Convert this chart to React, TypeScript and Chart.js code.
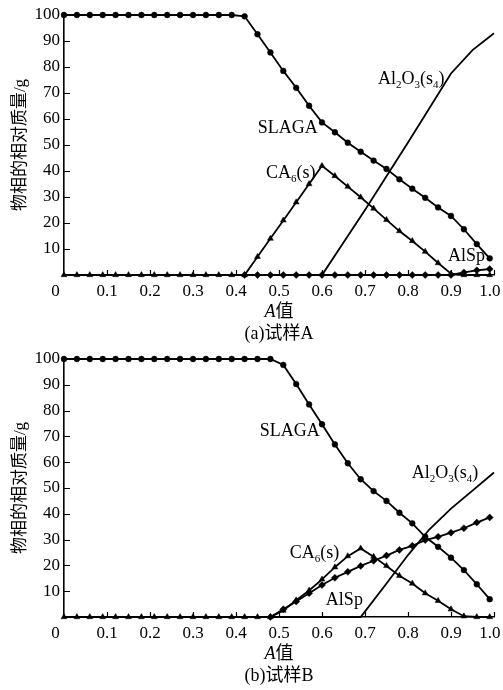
import React, { useEffect, useRef } from 'react';
import { Chart, registerables } from 'chart.js';
Chart.register(...registerables);

// ---- Data ----
const X_VALUES = [0, 0.03, 0.06, 0.09, 0.12, 0.15, 0.18, 0.21, 0.24, 0.27, 0.3, 0.33, 0.36, 0.39, 0.42, 0.45, 0.48, 0.51, 0.54, 0.57, 0.6, 0.63, 0.66, 0.69, 0.72, 0.75, 0.78, 0.81, 0.84, 0.87, 0.9, 0.93, 0.96, 0.99];

// Sample A
const SLAGA_A = [100, 100, 100, 100, 100, 100, 100, 100, 100, 100, 100, 100, 100, 100, 99.5, 92.6, 85.6, 78.5, 72, 65.1, 58.7, 54.9, 50.9, 47.4, 44, 40.8, 36.8, 33.2, 29.7, 26, 22.7, 17.6, 11.9, 6.4];
const CA6_A = [0, 0, 0, 0, 0, 0, 0, 0, 0, 0, 0, 0, 0, 0, 0, 7, 14, 21, 28, 35, 42, 38.1, 34, 29.9, 25.6, 21.2, 16.9, 13.1, 9, 4.6, 0.5, 0, 0, 0];
const ALSP_A = [null, null, null, null, null, null, null, null, null, null, null, null, null, null, 0, 0, 0, 0, 0, 0, 0, 0, 0, 0, 0, 0, 0, 0, 0, 0, 0, 1.0, 1.8, 2.3];
const AL2O3_A_X = [0, 0.6, 0.7, 0.8, 0.9, 0.95, 1.0];
const AL2O3_A = [0, 0, 25, 51, 77.5, 86.5, 93];

// Sample B
const SLAGA_B = [100, 100, 100, 100, 100, 100, 100, 100, 100, 100, 100, 100, 100, 100, 100, 100, 100, 97.7, 90.3, 82.4, 74.7, 66.9, 59.6, 53.4, 48.8, 45, 40.4, 36.3, 31.1, 27.2, 23, 18.2, 12.7, 6.9];
const CA6_B = [0, 0, 0, 0, 0, 0, 0, 0, 0, 0, 0, 0, 0, 0, 0, 0, 0, 2.5, 6.5, 10.3, 14.6, 19.3, 23.6, 26.6, 23.4, 19.8, 16, 13, 9.2, 6.3, 3, 0.3, 0, 0];
const ALSP_B = [null, null, null, null, null, null, null, null, null, null, null, null, null, null, null, null, 0, 3, 6, 9.2, 12.4, 15.2, 17.5, 19.8, 21.8, 23.8, 26, 27.6, 29.8, 31.1, 32.7, 34.4, 36.6, 38.6];
const AL2O3_B_X = [0, 0.69, 0.75, 0.8, 0.85, 0.9, 0.95, 1.0];
const AL2O3_B = [0, 0, 13, 24, 34, 42, 49, 56];

const X_TICKS = [0.1, 0.2, 0.3, 0.4, 0.5, 0.6, 0.7, 0.8, 0.9, 1.0];
const Y_TICKS = [10, 20, 30, 40, 50, 60, 70, 80, 90, 100];
const Y_TITLE = '物相的相对质量/g';

type Part = { t: string; sub?: boolean; italic?: boolean };
type Label = { parts: Part[]; x: number; y: number; align: 'left' | 'right' | 'center' };

const LABELS_A: Label[] = [
  { parts: [{ t: 'SLAGA' }], x: 0.59, y: 57, align: 'right' },
  { parts: [{ t: 'CA' }, { t: '6', sub: true }, { t: '(s)' }], x: 0.585, y: 39.7, align: 'right' },
  { parts: [{ t: 'Al' }, { t: '2', sub: true }, { t: 'O' }, { t: '3', sub: true }, { t: '(s' }, { t: '4', sub: true }, { t: ')' }], x: 0.73, y: 75.6, align: 'left' },
  { parts: [{ t: 'AlSp' }], x: 0.893, y: 7.7, align: 'left' },
];
const LABELS_B: Label[] = [
  { parts: [{ t: 'SLAGA' }], x: 0.595, y: 72.5, align: 'right' },
  { parts: [{ t: 'CA' }, { t: '6', sub: true }, { t: '(s)' }], x: 0.64, y: 25.3, align: 'right' },
  { parts: [{ t: 'Al' }, { t: '2', sub: true }, { t: 'O' }, { t: '3', sub: true }, { t: '(s' }, { t: '4', sub: true }, { t: ')' }], x: 0.809, y: 56.3, align: 'left' },
  { parts: [{ t: 'AlSp' }], x: 0.609, y: 6.9, align: 'left' },
];
const X_TITLE: Part[] = [{ t: 'A', italic: true }, { t: '值' }];
const CAPTION_A = '(a)试样A';
const CAPTION_B = '(b)试样B';

const FAMILY = '"Liberation Serif", "Noto Sans CJK SC", serif';

function drawRich(ctx: CanvasRenderingContext2D, parts: Part[], x: number, y: number, align: string, size: number) {
  const fontFor = (p: Part) => `${p.italic ? 'italic ' : ''}${p.sub ? Math.round(size * 0.62) : size}px ${FAMILY}`;
  const widths = parts.map((p) => {
    ctx.font = fontFor(p);
    return ctx.measureText(p.t).width;
  });
  const total = widths.reduce((a, b) => a + b, 0);
  let cx = align === 'left' ? x : align === 'right' ? x - total : x - total / 2;
  const base = y + size * 0.33;
  ctx.textAlign = 'left';
  ctx.textBaseline = 'alphabetic';
  parts.forEach((p, i) => {
    ctx.font = fontFor(p);
    ctx.fillText(p.t, cx, base + (p.sub ? size * 0.22 : 0));
    cx += widths[i];
  });
}

function makeDecor(labels: Label[], caption: string) {
  return {
    id: 'decor',
    beforeDatasetsDraw(chart: any) {
      const { ctx, chartArea, scales } = chart;
      ctx.save();
      ctx.strokeStyle = '#000';
      ctx.lineWidth = 1.2;
      ctx.beginPath();
      for (const v of Y_TICKS) {
        const py = Math.round(scales.y.getPixelForValue(v)) + 0.5;
        ctx.moveTo(chartArea.left, py);
        ctx.lineTo(chartArea.left + 6, py);
      }
      for (const v of X_TICKS) {
        const px = Math.round(scales.x.getPixelForValue(v)) + 0.5;
        ctx.moveTo(px, chartArea.bottom);
        ctx.lineTo(px, chartArea.bottom - 5);
      }
      ctx.stroke();
      ctx.restore();
    },
    afterDraw(chart: any) {
      const { ctx, chartArea, scales } = chart;
      ctx.save();
      ctx.fillStyle = '#000';
      for (const l of labels) {
        drawRich(ctx, l.parts, scales.x.getPixelForValue(l.x), scales.y.getPixelForValue(l.y), l.align, 18);
      }
      const cx = (chartArea.left + chartArea.right) / 2;
      drawRich(ctx, X_TITLE, cx, chartArea.bottom + 36, 'center', 18);
      drawRich(ctx, [{ t: caption }], cx, chartArea.bottom + 58, 'center', 18);
      ctx.restore();
    },
  };
}

const pts = (xs: number[], ys: (number | null)[]) => xs.map((x, i) => ({ x, y: ys[i] }));

function buildConfig(slaga: number[], ca6: number[], alsp: (number | null)[], alX: number[], al: number[], labels: Label[], caption: string, topPad: number, xAxisHeight: number) {
  const base = { borderColor: '#000', backgroundColor: '#000', borderWidth: 1.8, pointBackgroundColor: '#000', pointBorderColor: '#000', pointBorderWidth: 0.5, tension: 0, clip: false as any, spanGaps: false };
  const tickFont = { family: FAMILY, size: 17 };
  return {
    type: 'line' as const,
    data: {
      datasets: [
        { ...base, label: 'SLAGA', data: pts(X_VALUES, slaga), pointStyle: 'circle', pointRadius: 2.9 },
        { ...base, label: 'CA6(s)', data: pts(X_VALUES, ca6), pointStyle: 'triangle', pointRadius: 3.4 },
        { ...base, label: 'AlSp', data: pts(X_VALUES, alsp), pointStyle: 'rectRot', pointRadius: 3.5 },
        { ...base, label: 'Al2O3(s4)', data: pts(alX, al), pointRadius: 0 },
      ],
    },
    options: {
      responsive: false,
      animation: false,
      devicePixelRatio: 1,
      events: [],
      layout: { padding: { top: topPad, right: 9, left: 0, bottom: 0 } },
      plugins: { legend: { display: false }, tooltip: { enabled: false }, title: { display: false } },
      scales: {
        x: {
          type: 'linear',
          min: 0,
          max: 1,
          grid: { display: false, drawTicks: false },
          border: { display: true, color: '#000', width: 1.6 },
          ticks: {
            stepSize: 0.1,
            padding: 6,
            autoSkip: false,
            maxRotation: 0,
            color: '#000',
            font: tickFont,
            callback: (v: number) => {
              const r = Math.round(v * 10) / 10;
              if (r === 0) return '0\u2002\u2002';
              if (r === 1) return '1.0\u2002';
              return r.toFixed(1);
            },
          },
          afterFit: (s: any) => {
            s.height = xAxisHeight;
            s.paddingLeft = 0;
            s.paddingRight = 0;
          },
        },
        y: {
          min: 0,
          max: 100,
          grid: { display: false, drawTicks: false },
          border: { display: true, color: '#000', width: 1.6 },
          ticks: {
            stepSize: 10,
            padding: 4,
            color: '#000',
            font: tickFont,
            callback: (v: number) => (v === 0 ? '' : String(v)),
          },
          title: {
            display: true,
            text: Y_TITLE,
            color: '#000',
            font: { family: FAMILY, size: 17 },
            padding: { top: 10, bottom: 0 },
          },
          afterFit: (s: any) => {
            s.width = 64;
            s.paddingTop = 0;
            s.paddingBottom = 0;
          },
        },
      },
    },
    plugins: [makeDecor(labels, caption)],
  };
}

function Panel({ cfg }: { cfg: () => any }) {
  const ref = useRef<HTMLCanvasElement>(null);
  useEffect(() => {
    if (!ref.current) return;
    const chart = new Chart(ref.current, cfg());
    return () => chart.destroy();
  }, []);
  return <canvas ref={ref} width={503} height={345} style={{ display: 'block', width: 503, height: 345 }} />;
}

export default function App() {
  return (
    <div style={{ position: 'absolute', left: 0, top: 0, width: 503, height: 690, background: '#fff' }}>
      <Panel cfg={() => buildConfig(SLAGA_A, CA6_A, ALSP_A, AL2O3_A_X, AL2O3_A, LABELS_A, CAPTION_A, 15, 70)} />
      <Panel cfg={() => buildConfig(SLAGA_B, CA6_B, ALSP_B, AL2O3_B_X, AL2O3_B, LABELS_B, CAPTION_B, 14, 73)} />
    </div>
  );
}
